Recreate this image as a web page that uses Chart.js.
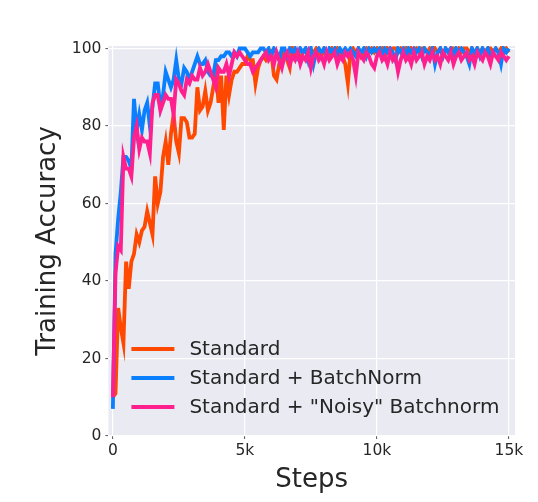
<!DOCTYPE html>
<html>
<head>
<meta charset="utf-8">
<script src="https://cdn.jsdelivr.net/npm/chart.js@4.4.1/dist/chart.umd.min.js"></script>
<style>
  html, body { margin: 0; padding: 0; background: #fff; }
  #wrap { width: 538px; height: 502px; }
</style>
</head>
<body>
<div id="wrap"><canvas id="chart"></canvas></div>
<script>
// x positions (training steps)
const steps = [
  0, 100, 200, 300, 400, 500, 600, 700, 800, 900,
  1000, 1100, 1200, 1300, 1400, 1500, 1600, 1700, 1800, 1900,
  2000, 2100, 2200, 2300, 2400, 2500, 2600, 2700, 2800, 2900,
  3000, 3100, 3200, 3300, 3400, 3500, 3600, 3700, 3800, 3900,
  4000, 4100, 4200, 4300, 4400, 4500, 4600, 4700, 4800, 4900,
  5000, 5100, 5200, 5300, 5400, 5500, 5600, 5700, 5800, 5900,
  6000, 6100, 6200, 6300, 6400, 6500, 6600, 6700, 6800, 6900,
  7000, 7100, 7200, 7300, 7400, 7500, 7600, 7700, 7800, 7900,
  8000, 8100, 8200, 8300, 8400, 8500, 8600, 8700, 8800, 8900,
  9000, 9100, 9200, 9300, 9400, 9500, 9600, 9700, 9800, 9900,
  10000, 10100, 10200, 10300, 10400, 10500, 10600, 10700, 10800, 10900,
  11000, 11100, 11200, 11300, 11400, 11500, 11600, 11700, 11800, 11900,
  12000, 12100, 12200, 12300, 12400, 12500, 12600, 12700, 12800, 12900,
  13000, 13100, 13200, 13300, 13400, 13500, 13600, 13700, 13800, 13900,
  14000, 14100, 14200, 14300, 14400, 14500, 14600, 14700, 14800, 14900,
  15000
];

const standard = [
  10, 11, 33, 28, 24, 45, 38, 45, 47, 52,
  50, 53, 54, 58, 55, 52, 67, 60, 63, 72,
  76, 70, 78, 83, 76, 73, 82, 82, 81, 77,
  77, 78, 90, 84, 85, 89, 84, 86, 90, 94,
  86, 93, 79, 93, 88, 92, 94, 94, 95, 96,
  96, 98, 97, 97, 91, 95, 97, 98, 97, 98,
  99, 93, 92, 96, 98, 99, 97, 95, 100, 98,
  99, 97, 99, 100, 99, 98, 99, 100, 99, 98,
  100, 99, 98, 100, 99, 100, 99, 98, 96, 91,
  99, 100, 99, 100, 98, 99, 100, 99, 100, 99,
  100, 99, 100, 98, 100, 99, 100, 100, 99, 100,
  99, 100, 98, 100, 99, 100, 99, 100, 100, 99,
  100, 99, 100, 99, 100, 98, 100, 99, 100, 100,
  99, 100, 99, 100, 100, 99, 100, 98, 100, 99,
  100, 99, 100, 100, 99, 100, 99, 100, 99, 100,
  99
];

const batchNorm = [
  7, 47, 56, 63, 72, 72, 71, 69, 87, 79,
  83, 79, 84, 86, 80, 85, 91, 91, 85, 88,
  94, 92, 90, 92, 97, 92, 91, 95, 94, 92,
  94, 96, 98, 96, 96, 97, 94, 93, 93, 97,
  97, 98, 98, 99, 99, 98, 99, 98, 100, 100,
  100, 99, 98, 99, 99, 99, 100, 100, 99, 100,
  98, 100, 99, 97, 100, 100, 98, 100, 99, 100,
  98, 100, 99, 100, 97, 100, 96, 99, 100, 99,
  100, 98, 100, 99, 100, 98, 100, 99, 100, 99,
  100, 99, 98, 100, 99, 100, 98, 100, 99, 100,
  99, 100, 98, 100, 99, 100, 99, 97, 100, 99,
  100, 98, 100, 99, 100, 99, 100, 98, 100, 99,
  98, 100, 96, 99, 100, 98, 100, 99, 100, 98,
  100, 99, 100, 99, 98, 96, 100, 99, 100, 98,
  100, 99, 100, 98, 99, 100, 99, 96, 100, 99,
  100
];

const noisyBatchNorm = [
  10, 42, 49, 48, 72, 69, 69, 67, 77, 80,
  74, 77, 76, 76, 73, 86, 88, 88, 84, 86,
  88, 87, 87, 83, 92, 91, 89, 88, 92, 91,
  93, 92, 92, 95, 93, 94, 96, 94, 92, 90,
  95, 94, 94, 96, 93, 96, 99, 98, 99, 98,
  97, 96, 96, 94, 95, 96, 97, 98, 99, 97,
  98, 96, 99, 97, 95, 98, 99, 96, 98, 97,
  99, 96, 98, 97, 99, 95, 98, 99, 97, 98,
  96, 99, 97, 98, 99, 96, 98, 97, 99, 98,
  99, 97, 93, 99, 98, 97, 99, 98, 96, 95,
  98, 99, 97, 98, 96, 99, 97, 98, 94, 97,
  99, 97, 98, 96, 99, 97, 98, 99, 96, 98,
  97, 99, 97, 98, 96, 99, 98, 97, 99, 96,
  98, 99, 97, 98, 99, 97, 98, 96, 99, 98,
  97, 99, 98, 96, 99, 98, 97, 99, 98, 97,
  98
];

const seriesLabels = ['Standard', 'Standard + BatchNorm', 'Standard + "Noisy" Batchnorm'];
const seriesColors = ['#ff4800', '#0a80ff', '#ff1f8e'];
const xTicks = [0, 5000, 10000, 15000];
const yTicks = [0, 20, 40, 60, 80, 100];

const FONT = "'DejaVu Sans', sans-serif";
const TEXT = '#262626';

function toPoints(values) {
  return values.map((v, i) => ({ x: steps[i], y: v }));
}

// seaborn-like grey panel
const panelBackground = {
  id: 'panelBackground',
  beforeDraw(chart) {
    const { ctx, chartArea: a } = chart;
    ctx.save();
    ctx.fillStyle = '#eaeaf2';
    ctx.fillRect(a.left, a.top, a.right - a.left, a.bottom - a.top);
    ctx.restore();
  }
};

// legend drawn inside the lower-left of the plot
const insideLegend = {
  id: 'insideLegend',
  afterDatasetsDraw(chart) {
    const { ctx, chartArea: a } = chart;
    ctx.save();
    ctx.font = '20px ' + FONT;
    ctx.textBaseline = 'middle';
    chart.data.datasets.forEach((ds, i) => {
      const y = a.bottom - 87 + i * 29;
      const x = a.left + 23;
      ctx.strokeStyle = ds.borderColor;
      ctx.lineWidth = 3.8;
      ctx.lineCap = 'butt';
      ctx.beginPath();
      ctx.moveTo(x, y);
      ctx.lineTo(x + 43, y);
      ctx.stroke();
      ctx.fillStyle = TEXT;
      ctx.fillText(ds.label, x + 58, y + 1);
    });
    ctx.restore();
  }
};

const seriesValues = [standard, batchNorm, noisyBatchNorm];
const datasets = seriesValues.map((vals, i) => ({
  label: seriesLabels[i],
  data: toPoints(vals),
  borderColor: seriesColors[i],
  borderWidth: 3.8,
  pointRadius: 0,
  tension: 0,
  fill: false,
  order: 3 - i
}));

new Chart(document.getElementById('chart'), {
  type: 'line',
  data: { datasets },
  options: {
    responsive: true,
    maintainAspectRatio: false,
    animation: false,
    layout: { padding: { left: 32.4, right: 23, top: 46, bottom: 0 } },
    plugins: {
      legend: { display: false },
      tooltip: { enabled: false }
    },
    scales: {
      x: {
        type: 'linear',
        min: -170,
        max: 15230,
        afterBuildTicks: scale => { scale.ticks = xTicks.map(v => ({ value: v })); },
        border: { display: false },
        grid: { color: '#ffffff', lineWidth: 1.2, tickLength: 3, tickColor: '#555555', tickWidth: 1 },
        ticks: {
          padding: 3,
          color: TEXT,
          font: { family: FONT, size: 15.5 },
          maxRotation: 0,
          callback: v => (v === 0 ? '0' : (v / 1000) + 'k')
        },
        title: {
          display: true,
          text: 'Steps',
          color: TEXT,
          font: { family: FONT, size: 26 },
          padding: { top: 0.8, bottom: 6.4 }
        }
      },
      y: {
        min: 0,
        max: 100.65,
        afterBuildTicks: scale => { scale.ticks = yTicks.map(v => ({ value: v })); },
        border: { display: false },
        grid: { color: '#ffffff', lineWidth: 1.2, tickLength: 3, tickColor: '#555555', tickWidth: 1 },
        ticks: {
          padding: 4,
          color: TEXT,
          font: { family: FONT, size: 15.5 }
        },
        title: {
          display: true,
          text: 'Training Accuracy',
          color: TEXT,
          font: { family: FONT, size: 26 },
          padding: { top: 0, bottom: 4.2 }
        }
      }
    }
  },
  plugins: [panelBackground, insideLegend]
});
</script>
</body>
</html>
